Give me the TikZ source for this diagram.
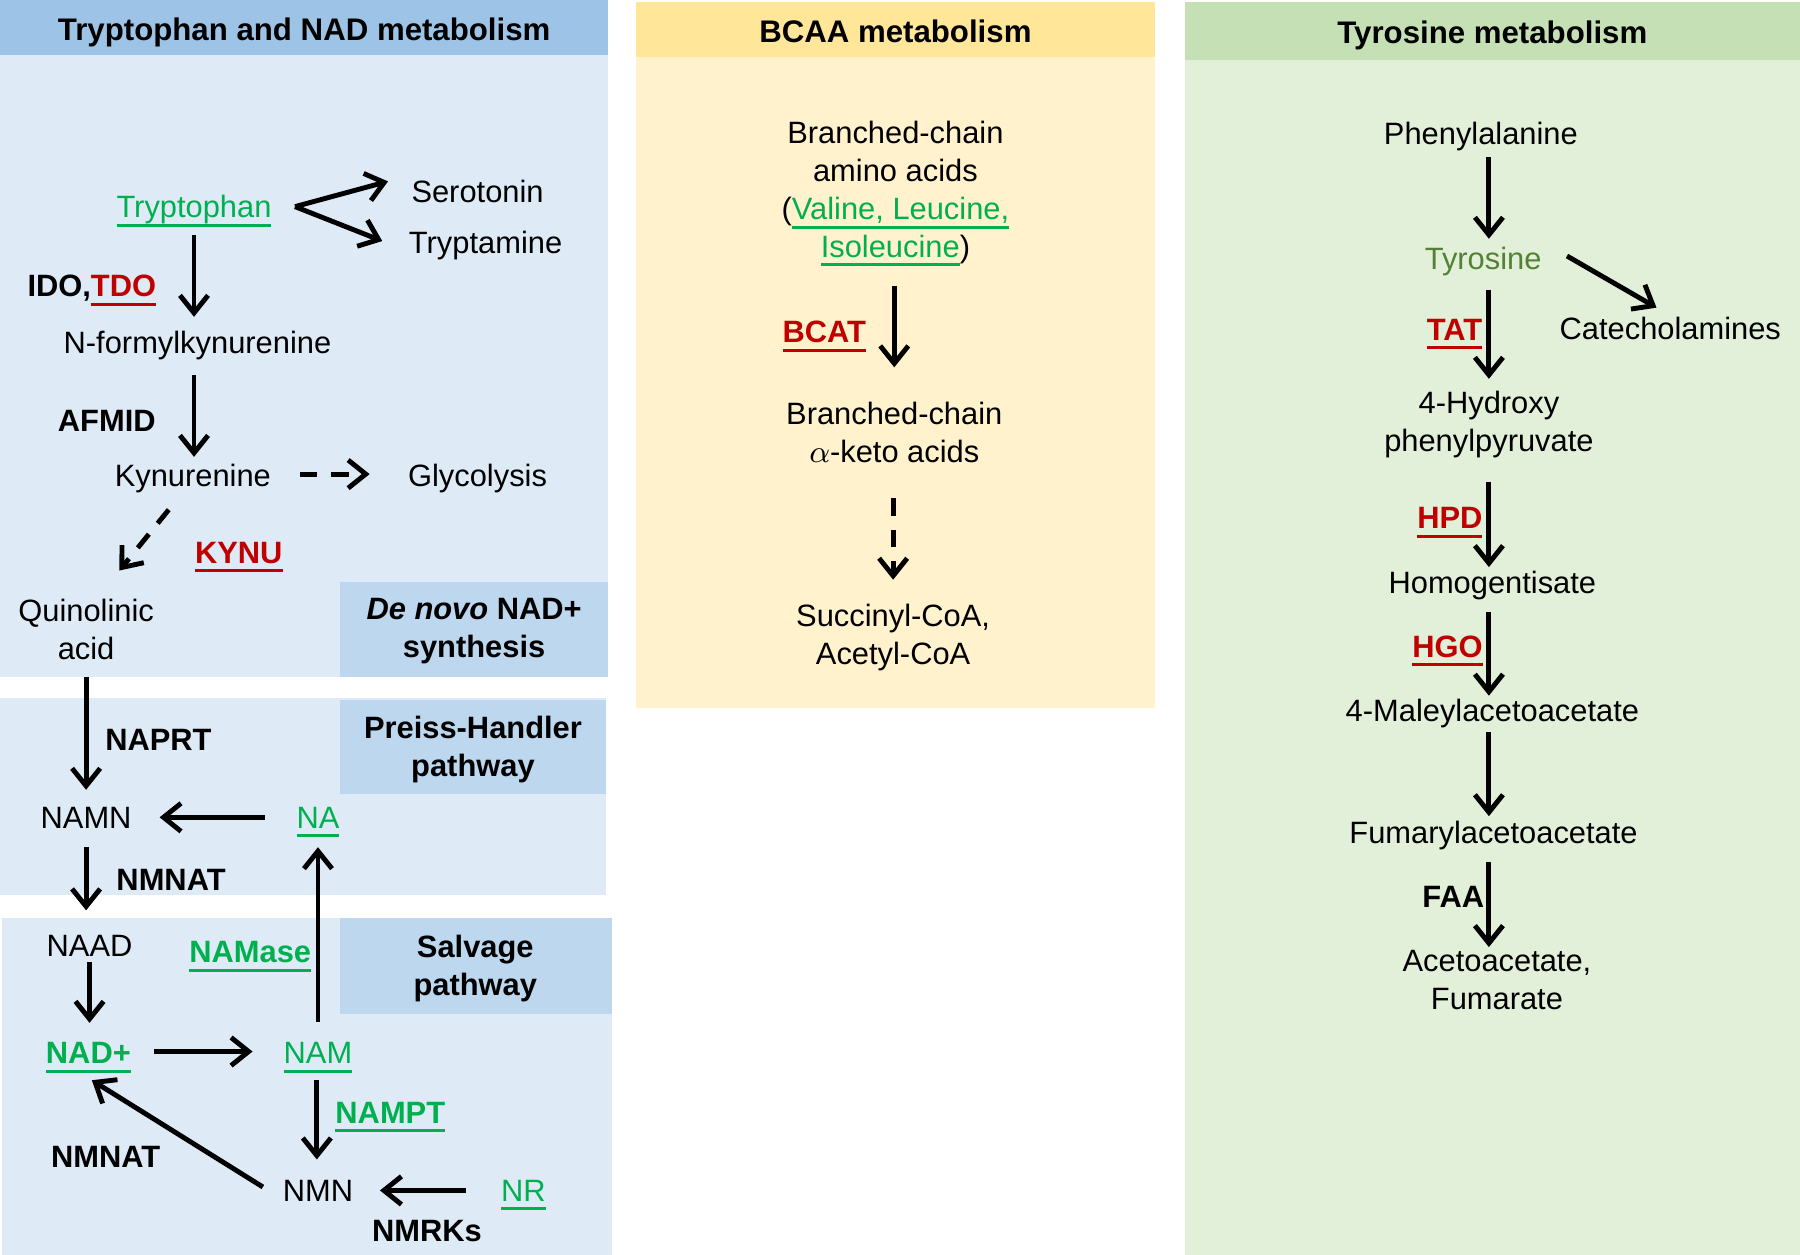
\documentclass[tikz,border=0pt]{standalone}
\usepackage{fontspec}
\setmainfont{Liberation Sans}
\usetikzlibrary{arrows.meta}
\definecolor{ltitle}{HTML}{9DC3E6}
\definecolor{lbody}{HTML}{DEEBF7}
\definecolor{lsec}{HTML}{BDD7EE}
\definecolor{mtitle}{HTML}{FFE699}
\definecolor{mbody}{HTML}{FFF2CC}
\definecolor{rtitle}{HTML}{C5E0B4}
\definecolor{rbody}{HTML}{E2F0D9}
\definecolor{grn}{HTML}{00B050}
\definecolor{myred}{HTML}{C00000}
\definecolor{tyrg}{HTML}{548235}
\newcommand\myfs{\fontsize{8.8}{10.8}\selectfont}
\newcommand\myul[1]{\leavevmode\setbox0\hbox{#1}\rlap{\vrule width\wd0 height -0.19em depth 0.29em}\box0}
\begin{document}
\begin{tikzpicture}[x=0.0115cm, y=-0.0115cm,
 txt/.style={font=\myfs, inner sep=0pt, text height=6.3pt, text depth=0pt},
 mtxt/.style={font=\myfs, inner sep=0pt, align=center},
 enz/.style={txt, font=\myfs\bfseries},
 ttl/.style={txt, font=\fontsize{8.9}{10.8}\selectfont\bfseries},
 sec/.style={mtxt, font=\myfs\bfseries},
 arr/.style={line width=1.4pt, -{Straight Barb[length=5pt,width=8pt]}},
 darr/.style={arr, dash pattern=on 5pt off 4pt}]
\useasboundingbox (0,0) rectangle (1568,1093);
% ---------- backgrounds ----------
\fill[lbody] (0,48) rectangle (530,590);
\fill[ltitle] (0,0) rectangle (530,48);
\fill[lbody] (0,608) rectangle (528,780);
\fill[lbody] (2,800) rectangle (533,1093);
\fill[lsec] (296,507) rectangle (530,590);
\fill[lsec] (296,610) rectangle (528,692);
\fill[lsec] (296,800) rectangle (533,883);
\fill[mbody] (554,50) rectangle (1006,617);
\fill[mtitle] (554,2) rectangle (1006,50);
\fill[rbody] (1032,52) rectangle (1568,1093);
\fill[rtitle] (1032,2) rectangle (1568,52);
% ---------- titles ----------
\node[ttl] (t1) at (265,26) {Tryptophan and NAD metabolism};
\node[ttl] (t2) at (780,27) {BCAA metabolism};
\node[ttl] (t3) at (1300,28) {Tyrosine metabolism};
% ---------- left panel ----------
\node[txt, text=grn] (trp) at (169,180) {\myul{Tryptophan}};
\node[txt] (ser) at (416,167) {Serotonin};
\node[txt] (tpm) at (423,211) {Tryptamine};
\node[enz] (ido) at (80,249) {IDO,\textcolor{myred}{\myul{TDO}}};
\node[txt] (nf) at (172,298) {N-formylkynurenine};
\node[enz] (afmid) at (93,366) {AFMID};
\node[txt] (kyn) at (168,414) {Kynurenine};
\node[txt] (glyc) at (416,414) {Glycolysis};
\node[enz, text=myred] (kynu) at (208,481) {\myul{KYNU}};
\node[mtxt] (quin) at (75,548) {Quinolinic\\acid};
\node[sec] (denovo) at (413,550) {\textit{De novo} NAD+\\synthesis};
\node[enz] (naprt) at (138,644) {NAPRT};
\node[sec] (preiss) at (412,653) {Preiss-Handler\\pathway};
\node[txt] (namn) at (75,712) {NAMN};
\node[txt, text=grn] (na) at (277,712) {\myul{NA}};
\node[enz] (nmnat1) at (149,766) {NMNAT};
\node[txt] (naad) at (78,824) {NAAD};
\node[enz, text=grn] (namase) at (218,829) {\myul{NAMase}};
\node[sec] (salv) at (414,844) {Salvage\\pathway};
\node[enz, text=grn] (nad) at (77,917) {\myul{NAD+}};
\node[txt, text=grn] (nam) at (277,917) {\myul{NAM}};
\node[enz, text=grn] (nampt) at (340,969) {\myul{NAMPT}};
\node[txt] (nmn) at (277,1037) {NMN};
\node[txt, text=grn] (nr) at (456,1037) {\myul{NR}};
\node[enz] (nmrks) at (372,1072) {NMRKs};
\node[enz] (nmnat2) at (92,1007) {NMNAT};
\draw[arr] ([shift={(88,0)}]trp.center) -- ([shift={(-78,-9)}]ser.center);
\draw[arr] ([shift={(88,0)}]trp.center) -- ([shift={(-90,-1)}]tpm.center);
\draw[arr] ([shift={(0,25)}]trp.center) -- ([shift={(-3,-22)}]nf.center);
\draw[arr] ([shift={(-3,29)}]nf.center) -- ([shift={(1,-16)}]kyn.center);
\draw[darr] ([shift={(93,-1)}]kyn.center) -- ([shift={(-94,-1)}]glyc.center);
\draw[darr] ([shift={(-21,30)}]kyn.center) -- ([shift={(29,-51)}]quin.center);
\draw[arr] ([shift={(0,42)}]quin.center) -- ([shift={(0,-24)}]namn.center);
\draw[arr] ([shift={(-46,0)}]na.center) -- ([shift={(64,0)}]namn.center);
\draw[arr] ([shift={(0,26)}]namn.center) -- ([shift={(-3,-31)}]naad.center);
\draw[arr] ([shift={(0,14)}]naad.center) -- ([shift={(1,-26)}]nad.center);
\draw[arr] ([shift={(57,-1)}]nad.center) -- ([shift={(-57,-1)}]nam.center);
\draw[arr] ([shift={(0,-27)}]nam.center) -- ([shift={(0,26)}]na.center);
\draw[arr] ([shift={(-1,24)}]nam.center) -- ([shift={(-1,-27)}]nmn.center);
\draw[arr] ([shift={(-50,0)}]nr.center) -- ([shift={(54,0)}]nmn.center);
\draw[arr] ([shift={(-48,-3)}]nmn.center) -- ([shift={(3,24)}]nad.center);
% ---------- middle panel ----------
\node[mtxt] (bcaa) at (780,169) {Branched-chain\\amino acids\\(\textcolor{grn}{\myul{Valine, Leucine,}}\\\textcolor{grn}{\myul{Isoleucine}})};
\node[enz, text=myred] (bcat) at (718,289) {\myul{BCAT}};
\node[mtxt] (bcka) at (779,377) {Branched-chain\\$\alpha$-keto acids};
\node[mtxt] (succ) at (778,555) {Succinyl-CoA,\\Acetyl-CoA};
\draw[arr] ([shift={(-1,80)}]bcaa.center) -- ([shift={(0,-57)}]bcka.center);
\draw[darr] ([shift={(-1,57)}]bcka.center) -- ([shift={(0,-50)}]succ.center);
% ---------- right panel ----------
\node[txt] (phe) at (1290,116) {Phenylalanine};
\node[txt, text=tyrg] (tyr) at (1292,225) {Tyrosine};
\node[txt] (cat) at (1455,286) {Catecholamines};
\node[enz, text=myred] (tat) at (1267,287) {\myul{TAT}};
\node[mtxt] (hpp) at (1297,370) {4-Hydroxy\\phenylpyruvate};
\node[enz, text=myred] (hpd) at (1263,451) {\myul{HPD}};
\node[txt] (hom) at (1300,507) {Homogentisate};
\node[enz, text=myred] (hgo) at (1261,563) {\myul{HGO}};
\node[txt] (mal) at (1300,619) {4-Maleylacetoacetate};
\node[txt] (fum) at (1301,725) {Fumarylacetoacetate};
\node[enz] (faa) at (1266,781) {FAA};
\node[mtxt] (ace) at (1304,854) {Acetoacetate,\\Fumarate};
\draw[arr] ([shift={(7,21)}]phe.center) -- ([shift={(5,-17)}]tyr.center);
\draw[arr] ([shift={(73,-2)}]tyr.center) -- ([shift={(-12,-18)}]cat.center);
\draw[arr] ([shift={(5,28)}]tyr.center) -- ([shift={(0,-40)}]hpp.center);
\draw[arr] ([shift={(0,50)}]hpp.center) -- ([shift={(-3,-13)}]hom.center);
\draw[arr] ([shift={(-3,26)}]hom.center) -- ([shift={(-3,-13)}]mal.center);
\draw[arr] ([shift={(-3,19)}]mal.center) -- ([shift={(-4,-14)}]fum.center);
\draw[arr] ([shift={(-4,26)}]fum.center) -- ([shift={(-7,-29)}]ace.center);
\end{tikzpicture}
\end{document}
